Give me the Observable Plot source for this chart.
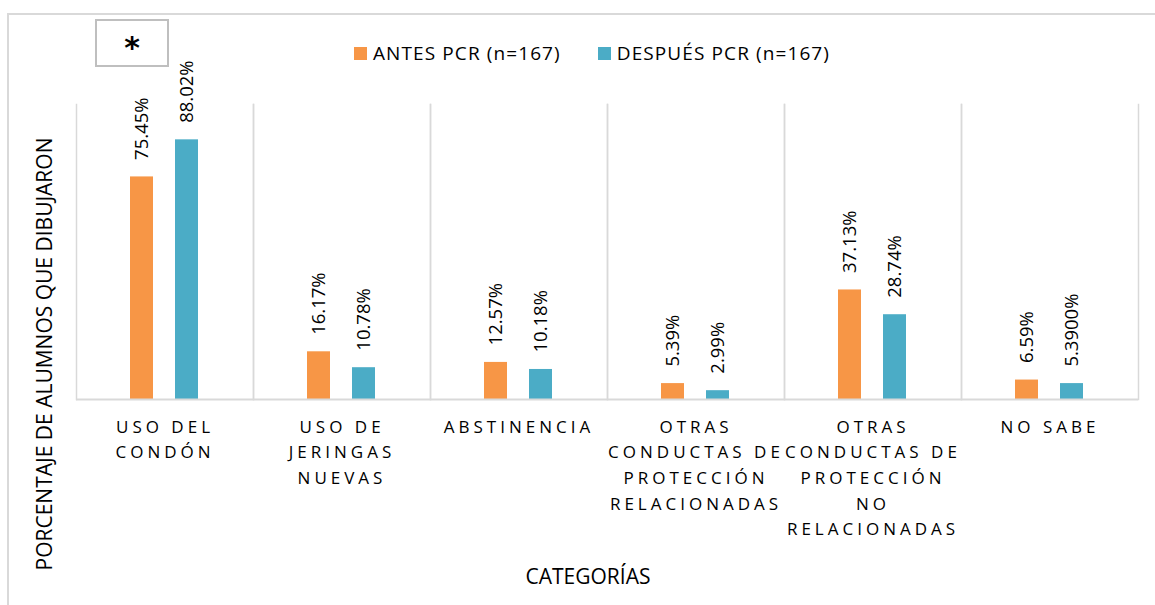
<!DOCTYPE html>
<html>
<head>
<meta charset="utf-8">
<script src="https://cdn.jsdelivr.net/npm/d3@7"></script>
<script src="https://cdn.jsdelivr.net/npm/@observablehq/plot@0.6"></script>
<style>
  html, body { margin: 0; padding: 0; background: #fff; }
  #wrap { position: relative; width: 1155px; height: 605px; overflow: hidden; font-family: "Open Sans", sans-serif; color: #000; }
  #border { position: absolute; left: 7px; top: 13px; width: 1200px; height: 700px; border: 2px solid #d9d9d9; box-sizing: border-box; }
  #star { position: absolute; left: 95px; top: 19px; width: 74px; height: 48px; border: 2px solid #bfbfbf; box-sizing: border-box; background: #fff;
          display: flex; align-items: center; justify-content: center; font-weight: bold; font-size: 30px; font-family: "DejaVu Sans", sans-serif; padding-top: 8px; }
  #legend { position: absolute; left: 354px; top: 53px; transform: translateY(-50%); display: flex; gap: 37px; font-size: 19px; letter-spacing: 1.1px; white-space: nowrap; }
  #legend .item { display: flex; align-items: center; gap: 6px; }
  #legend .sw { width: 13px; height: 13px; display: inline-block; }
  #ytitle { position: absolute; left: 44px; top: 354px; transform: translate(-50%, -50%) rotate(-90deg); white-space: nowrap; font-size: 21px; }
  #xtitle { position: absolute; left: 588px; top: 576px; transform: translate(-50%, -50%); white-space: nowrap; font-size: 21px; }
  #chart { position: absolute; left: 0; top: 0; }
  g[aria-label="fx-axis tick label"] text { letter-spacing: 4px; }
</style>
</head>
<body>
<div id="wrap">
  <div id="border"></div>
  <div id="chart"></div>
  <div id="star">*</div>
  <div id="legend"></div>
  <div id="ytitle">PORCENTAJE DE ALUMNOS QUE DIBUJARON</div>
  <div id="xtitle">CATEGORÍAS</div>
</div>
<script>
const categories = [
  "USO DEL CONDÓN",
  "USO DE JERINGAS NUEVAS",
  "ABSTINENCIA",
  "OTRAS CONDUCTAS DE PROTECCIÓN RELACIONADAS",
  "OTRAS CONDUCTAS DE PROTECCIÓN NO RELACIONADAS",
  "NO SABE"
];
const tickLabels = [
  "USO DEL\nCONDÓN",
  "USO DE\nJERINGAS\nNUEVAS",
  "ABSTINENCIA",
  "OTRAS\nCONDUCTAS DE\nPROTECCIÓN\nRELACIONADAS",
  "OTRAS\nCONDUCTAS DE\nPROTECCIÓN\nNO\nRELACIONADAS",
  "NO SABE"
];
const seriesNames = ["ANTES PCR (n=167)", "DESPUÉS PCR (n=167)"];
const seriesColors = ["#F79646", "#4BACC6"];
const antes = [75.45, 16.17, 12.57, 5.39, 37.13, 6.59];
const despues = [88.02, 10.78, 10.18, 2.99, 28.74, 5.39];
const antesLabels = ["75.45%", "16.17%", "12.57%", "5.39%", "37.13%", "6.59%"];
const despuesLabels = ["88.02%", "10.78%", "10.18%", "2.99%", "28.74%", "5.3900%"];

const data = [];
categories.forEach((c, i) => {
  data.push({cat: c, series: seriesNames[0], value: antes[i], label: antesLabels[i]});
  data.push({cat: c, series: seriesNames[1], value: despues[i], label: despuesLabels[i]});
});
const tickMap = new Map(categories.map((c, i) => [c, tickLabels[i]]));

const chart = Plot.plot({
  width: 1155,
  height: 605,
  marginLeft: 74,
  marginRight: 15,
  marginTop: 104,
  marginBottom: 206,
  style: {fontFamily: "Open Sans, sans-serif", background: "transparent", color: "#000"},
  fx: {domain: categories, padding: 0, label: null, tickFormat: d => tickMap.get(d)},
  x: {domain: seriesNames, paddingInner: 0.478, paddingOuter: 1.17, axis: null},
  y: {domain: [0, 100], axis: null},
  color: {domain: seriesNames, range: seriesColors},
  marks: [
    Plot.frame({anchor: "left", stroke: "#d9d9d9", strokeWidth: 1.5}),
    Plot.frame({anchor: "right", stroke: "#d9d9d9", strokeWidth: 1.5}),
    Plot.barY(data, {fx: "cat", x: "series", y: "value", fill: "series"}),
    Plot.ruleY([0], {stroke: "#d9d9d9", strokeWidth: 2}),
    Plot.text(data, {fx: "cat", x: "series", y: "value", text: "label", rotate: -90, textAnchor: "start", lineAnchor: "middle", dy: -17, fontSize: 18.5, fill: "#000"}),
    Plot.axisFx({anchor: "bottom", tickSize: 0, tickPadding: 15, fontSize: 17, lineHeight: 1.51, lineAnchor: "top", label: null, tickFormat: d => tickMap.get(d)})
  ]
});
document.getElementById("chart").appendChild(chart);

const legend = document.getElementById("legend");
seriesNames.forEach((s, i) => {
  const item = document.createElement("span");
  item.className = "item";
  const sw = document.createElement("span");
  sw.className = "sw";
  sw.style.background = seriesColors[i];
  const t = document.createElement("span");
  t.textContent = s;
  item.appendChild(sw);
  item.appendChild(t);
  legend.appendChild(item);
});
</script>
</body>
</html>
